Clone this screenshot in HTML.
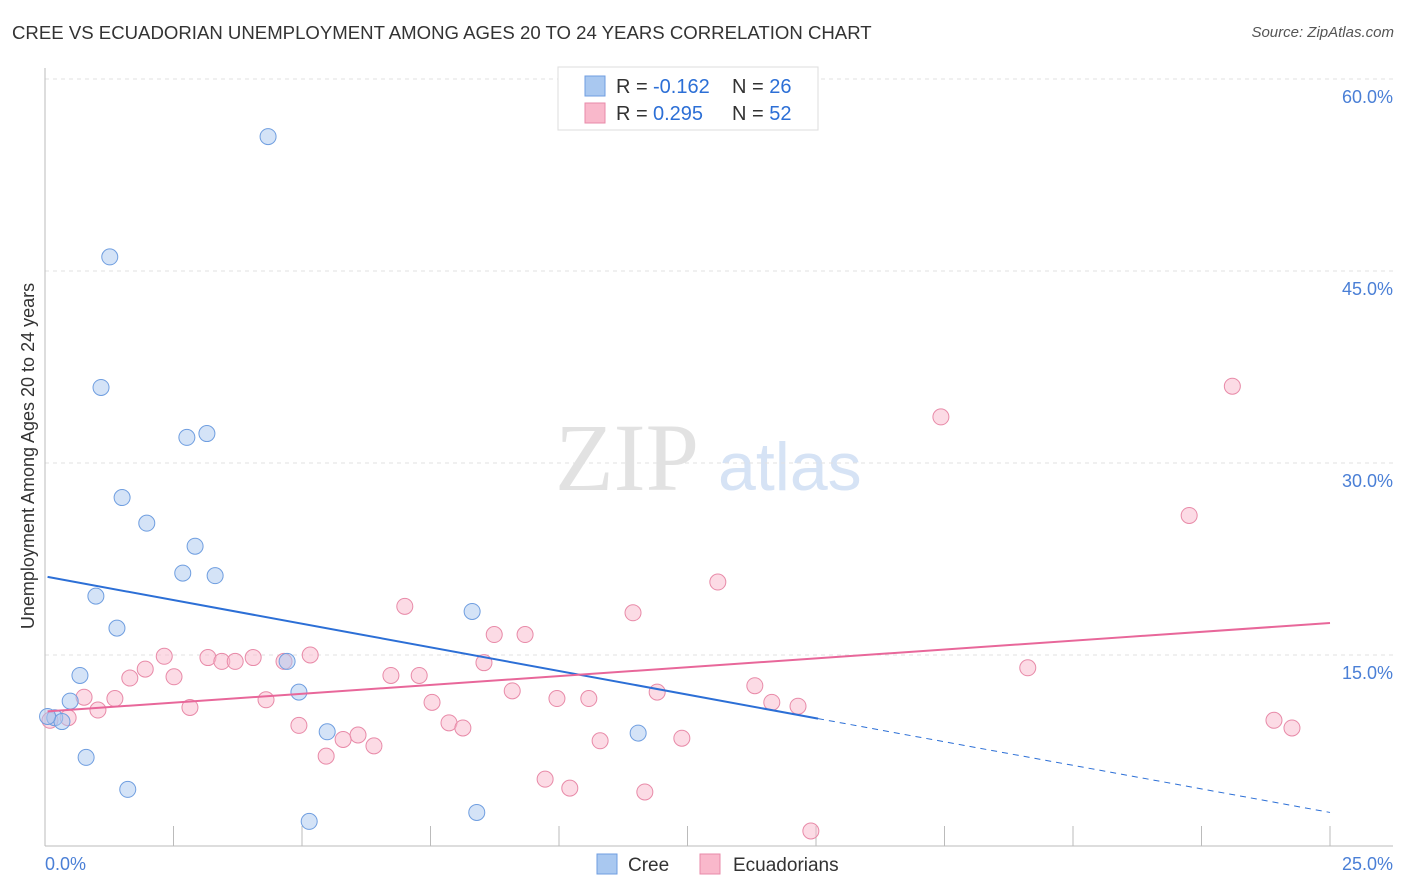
<!DOCTYPE html>
<html><head><meta charset="utf-8"><style>
body{margin:0;background:#fff;font-family:"Liberation Sans",sans-serif;}
#wrap{position:relative;width:1406px;height:892px;overflow:hidden;}
.t{position:absolute;white-space:nowrap;}
</style></head><body>
<div id="wrap">
<div class="t" style="left:12px;top:22px;font-size:18.6px;color:#333;">CREE VS ECUADORIAN UNEMPLOYMENT AMONG AGES 20 TO 24 YEARS CORRELATION CHART</div>
<div class="t" style="right:12px;top:24px;font-size:15px;color:#555;font-style:italic;">Source: ZipAtlas.com</div>
<svg id="svg" width="1406" height="892" style="position:absolute;left:0;top:0"></svg>
</div>
<script>
const cats=["Cree","Ecuadorians"];
const creeX=[4.34,1.26,1.09,2.76,3.15,1.5,1.98,2.92,2.68,3.31,0.99,1.4,8.31,0.68,4.71,4.94,0.49,0.19,0.33,5.49,11.54,0.8,1.61,5.14,8.4,0.05];
const creeY=[55.5,46.1,35.9,32.0,32.3,27.3,25.3,23.5,21.4,21.2,19.6,17.1,18.4,13.4,14.5,12.1,11.4,10.1,9.8,9.0,8.9,7.0,4.5,2.0,2.7,10.2];
const ecuX=[23.1,17.43,22.26,13.09,11.44,7.0,8.74,9.34,5.16,2.32,3.17,3.44,3.7,4.05,4.65,1.95,2.51,1.65,6.73,7.28,8.54,19.12,0.76,1.36,1.03,2.82,4.3,7.53,9.09,9.96,10.58,11.91,13.81,14.14,14.65,0.45,0.097,4.94,6.09,7.86,8.13,5.8,6.4,5.47,10.8,12.39,23.91,24.26,9.73,10.21,11.67,14.9];
const ecuY=[36.0,33.6,25.9,20.7,18.3,18.8,16.6,16.6,15.0,14.9,14.8,14.5,14.5,14.8,14.5,13.9,13.3,13.2,13.4,13.4,14.4,14.0,11.7,11.6,10.7,10.9,11.5,11.3,12.2,11.6,11.6,12.1,12.6,11.3,11.0,10.1,9.9,9.5,8.75,9.7,9.3,8.4,7.9,7.1,8.3,8.5,9.9,9.3,5.3,4.6,4.3,1.25];
const creeLine=[21.1,2.7], creeSolidEnd=15.04;
const ecuLine=[10.6,17.5];
const yTicks=[15,30,45,60], yTickLabels=["15.0%","30.0%","45.0%","60.0%"];
const xTickLabels=["0.0%","25.0%"];
const X=v=>45+v*51.4, Y=v=>847-v*12.8;
const svg=document.getElementById('svg');const NS="http://www.w3.org/2000/svg";
function el(tag,a,p){const e=document.createElementNS(NS,tag);for(const k in a)e.setAttribute(k,a[k]);(p||svg).appendChild(e);return e;}
let w=el('text',{x:555,y:490,'font-size':96,fill:'#e2e2e2','font-family':'Liberation Serif,serif'});w.textContent="ZIP";


let w2=el('text',{x:718,y:490,'font-size':68,fill:'#d6e3f5','font-family':'Liberation Sans,sans-serif'});w2.textContent="atlas";


yTicks.forEach((t,i)=>{
 const g=el('line',{x1:45,x2:1393,y1:Y(t),y2:Y(t),stroke:'#e2e2e2','stroke-dasharray':'4,4'});
 
 
 const l=el('text',{x:1393,y:Y(t)+24,'text-anchor':'end','font-size':18,fill:'#4a7fd6'});l.textContent=yTickLabels[i];
 
 
});
let ax=el('line',{x1:45,x2:1393,y1:846,y2:846,stroke:'#bbb'});


let ay=el('line',{x1:45,x2:45,y1:68,y2:846,stroke:'#bbb'});


for(let i=0;i<=10;i++){const tk=el('line',{x1:X(i*2.5),x2:X(i*2.5),y1:826,y2:846,stroke:'#bbb'});
 
 }
[[0,'start'],[25,'end']].forEach((d,i)=>{const l=el('text',{x:i?1393:45,y:870,'text-anchor':d[1],'font-size':18,fill:'#4a7fd6'});l.textContent=xTickLabels[i];
 
 });
let yt=el('text',{transform:'translate(34,456) rotate(-90)','text-anchor':'middle','font-size':18,fill:'#333'});yt.textContent="Unemployment Among Ages 20 to 24 years";


function pts(xs,ys,fill,stroke,name){xs.forEach((x,i)=>{const c=el('circle',{cx:X(x),cy:Y(ys[i]),r:8,fill:fill,stroke:stroke,'stroke-width':1,'fill-opacity':0.5});
 
 });}
pts(ecuX,ecuY,'#f9b8cb','#e88aa8','ecuadorian-point');
pts(creeX,creeY,'#a9c8f0','#6f9ee0','cree-point');
const slope=(creeLine[1]-creeLine[0])/25;
let l1=el('line',{x1:X(0.05),y1:Y(creeLine[0]),x2:X(creeSolidEnd),y2:Y(creeLine[0]+slope*creeSolidEnd),stroke:'#2c6fd6','stroke-width':2});


let l2=el('line',{x1:X(creeSolidEnd),y1:Y(creeLine[0]+slope*creeSolidEnd),x2:X(25),y2:Y(creeLine[1]),stroke:'#2c6fd6','stroke-width':1,'stroke-dasharray':'6,5'});


let l3=el('line',{x1:X(0.05),y1:Y(ecuLine[0]),x2:X(25),y2:Y(ecuLine[1]),stroke:'#e8679a','stroke-width':2});


let lb=el('rect',{x:558,y:67,width:260,height:63,fill:'#fff',stroke:'#ddd'});


[[86,'#a9c8f0','#6f9ee0','-0.162','26'],[113,'#f9b8cb','#e88aa8','0.295','52']].forEach(r=>{
 const s=el('rect',{x:585,y:r[0]-10,width:20,height:20,fill:r[1],stroke:r[2]});
 
 
 const t=el('text',{x:616,y:r[0]+7,'font-size':20,fill:'#333'});
 t.innerHTML='R = <tspan fill="#2c6fd6" x="653">'+r[3]+'</tspan><tspan x="732" fill="#333">N = </tspan><tspan fill="#2c6fd6">'+r[4]+'</tspan>';
 
 
});
[[597,'#a9c8f0','#6f9ee0','Cree',628],[700,'#f9b8cb','#e88aa8','Ecuadorians',733]].forEach(r=>{
 const s=el('rect',{x:r[0],y:854,width:20,height:20,fill:r[1],stroke:r[2]});
 
 
 const t=el('text',{x:r[4],y:871,'font-size':19,fill:'#333'});t.textContent=r[3];
 
 
});
</script>
</body></html>
